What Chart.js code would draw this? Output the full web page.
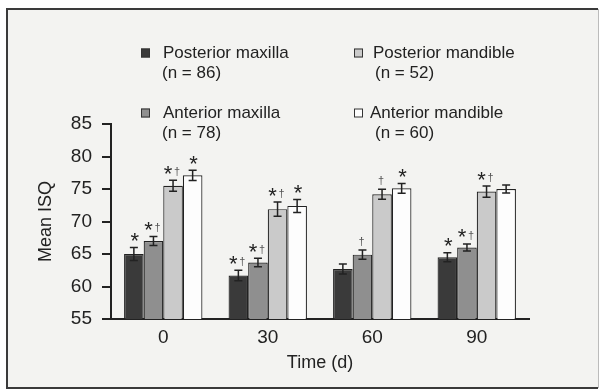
<!DOCTYPE html>
<html>
<head>
<meta charset="utf-8">
<script src="https://cdn.jsdelivr.net/npm/chart.js@4"></script>
<style>
  html, body { margin: 0; padding: 0; background: #fff; }
  #wrap { width: 603px; height: 390px; }
</style>
</head>
<body>
<div id="wrap"><canvas id="isqChart" width="603" height="390"></canvas></div>
<script>
// --- data ---
const timeLabels = ['0', '30', '60', '90'];
const groupNames = ['Posterior maxilla', 'Anterior maxilla', 'Posterior mandible', 'Anterior mandible'];
const groupN = [86, 78, 52, 60];

const postMaxilla = [65.0, 61.7, 62.7, 64.5];
const antMaxilla = [67.0, 63.7, 64.9, 66.0];
const postMandible = [75.5, 71.9, 74.2, 74.6];
const antMandible = [77.1, 72.4, 75.1, 75.0];

// error (+/-) for each bar
const postMaxillaErr = [1.0, 0.8, 0.77, 0.7];
const antMaxillaErr = [0.7, 0.65, 0.7, 0.55];
const postMandibleErr = [0.85, 1.1, 0.77, 0.85];
const antMandibleErr = [0.8, 1.0, 0.75, 0.6];

// significance marks above bars
const postMaxillaSig = ['*', '*†', '', '*'];
const antMaxillaSig = ['*†', '*†', '†', '*†'];
const postMandibleSig = ['*†', '*†', '†', '*†'];
const antMandibleSig = ['*', '*', '*', ''];

const yTicks = [55, 60, 65, 70, 75, 80, 85];

const FONT = '"Liberation Sans", Arial, sans-serif';
const INK = '#222';
const BAR_COLORS = ['#3a3a3a', '#8f8f8f', '#cacaca', '#fdfdfd'];

const errs = [postMaxillaErr, antMaxillaErr, postMandibleErr, antMandibleErr];
const sigs = [postMaxillaSig, antMaxillaSig, postMandibleSig, antMandibleSig];

// background + outer frame
const framePlugin = {
    id: 'frame',
    beforeDraw(chart) {
        const c = chart.ctx;
        c.save();
        c.fillStyle = '#ffffff';
        c.fillRect(0, 0, chart.width, chart.height);
        c.fillStyle = '#f3f3f1';
        c.fillRect(7, 9, 591, 379);
        c.strokeStyle = '#3a3a3a';
        c.lineWidth = 2;
        c.beginPath();
        c.moveTo(7, 389); c.lineTo(7, 9); c.lineTo(598, 9);
        c.moveTo(6, 388); c.lineTo(598, 388);
        c.stroke();
        c.strokeStyle = '#bbbbbb';
        c.lineWidth = 1;
        c.beginPath();
        c.moveTo(598.5, 9); c.lineTo(598.5, 388);
        c.stroke();
        c.restore();
    }
};

// error bars + significance marks
const errorPlugin = {
    id: 'errors',
    afterDatasetsDraw(chart) {
        const c = chart.ctx;
        const y = chart.scales.y;
        c.save();
        chart.data.datasets.forEach((ds, i) => {
            const meta = chart.getDatasetMeta(i);
            meta.data.forEach((bar, j) => {
                const v = ds.data[j], e = errs[i][j];
                const top = y.getPixelForValue(v + e);
                const bot = y.getPixelForValue(v - e);
                const x = bar.x;
                c.strokeStyle = INK;
                c.lineWidth = 1.5;
                c.beginPath();
                c.moveTo(x, top); c.lineTo(x, bot);
                c.moveTo(x - 4, top); c.lineTo(x + 4, top);
                c.moveTo(x - 4, bot); c.lineTo(x + 4, bot);
                c.stroke();

                const s = sigs[i][j];
                if (!s) return;
                c.fillStyle = INK;
                c.textBaseline = 'alphabetic';
                c.textAlign = 'center';
                const starY = top + 0.5;
                const dagY = top - 5;
                if (s === '*') {
                    c.font = '22px ' + FONT;
                    c.fillText('*', x + 1, starY);
                } else if (s === '†') {
                    c.font = '11px ' + FONT;
                    c.fillStyle = '#555';
                    c.fillText('†', x - 1, dagY);
                } else {
                    c.font = '22px ' + FONT;
                    c.fillText('*', x - 5, starY);
                    c.font = '11px ' + FONT;
                    c.fillStyle = '#555';
                    c.fillText('†', x + 4, dagY);
                }
            });
        });
        c.restore();
    }
};

// two-column legend with n below each name
const legendPlugin = {
    id: 'twoColLegend',
    afterDraw(chart) {
        const c = chart.ctx;
        const cols = [141, 354];
        const rows = [53, 113];
        // column 1 = maxilla, column 2 = mandible
        const place = [[0, 0], [0, 1], [1, 0], [1, 1]];
        const textDx = [22, 22, 19, 16];
        c.save();
        chart.data.datasets.forEach((ds, i) => {
            const mx = cols[place[i][0]];
            const my = rows[place[i][1]];
            c.fillStyle = BAR_COLORS[i];
            c.strokeStyle = '#333';
            c.lineWidth = 1;
            c.fillRect(mx, my - 4.5, 9, 9);
            c.strokeRect(mx + 0.5, my - 4, 8, 8);
            c.fillStyle = INK;
            c.font = '17px ' + FONT;
            c.textAlign = 'left';
            c.textBaseline = 'middle';
            c.fillText(ds.label, mx + textDx[i], my);
            c.fillText('(n = ' + groupN[i] + ')', mx + 21, my + 20);
        });
        c.restore();
    }
};

const datasets = [postMaxilla, antMaxilla, postMandible, antMandible].map((vals, i) => ({
    label: groupNames[i],
    data: vals,
    backgroundColor: BAR_COLORS[i],
    borderColor: INK,
    borderWidth: 1.2,
    borderSkipped: false,
    categoryPercentage: 0.75,
    barPercentage: 1.0
}));

new Chart(document.getElementById('isqChart').getContext('2d'), {
    type: 'bar',
    data: { labels: timeLabels, datasets: datasets },
    options: {
        responsive: false,
        animation: false,
        layout: { padding: { top: 124, right: 74, bottom: 0, left: 0 } },
        plugins: {
            legend: { display: false },
            tooltip: { enabled: false }
        },
        scales: {
            x: {
                grid: { display: false, drawTicks: false },
                border: { display: true, color: INK, width: 2 },
                ticks: { color: INK, font: { family: FONT, size: 19 }, padding: 7 },
                title: { display: true, text: 'Time (d)', color: INK,
                         font: { family: FONT, size: 18 }, padding: { top: 4, bottom: 16 } },
                afterFit(scale) { scale.height = 71; }
            },
            y: {
                min: 55, max: 85,
                afterBuildTicks(scale) { scale.ticks = yTicks.map(v => ({ value: v })); },
                grid: { drawOnChartArea: false, drawTicks: true, tickLength: 9, color: INK, lineWidth: 2 },
                border: { display: true, color: INK, width: 2 },
                ticks: { color: INK, font: { family: FONT, size: 19 }, padding: 10 },
                title: { display: true, text: 'Mean ISQ', color: INK,
                         font: { family: FONT, size: 18 }, padding: { top: 35, bottom: 0 } },
                afterFit(scale) { scale.width = 111; }
            }
        }
    },
    plugins: [framePlugin, errorPlugin, legendPlugin]
});
</script>
</body>
</html>
